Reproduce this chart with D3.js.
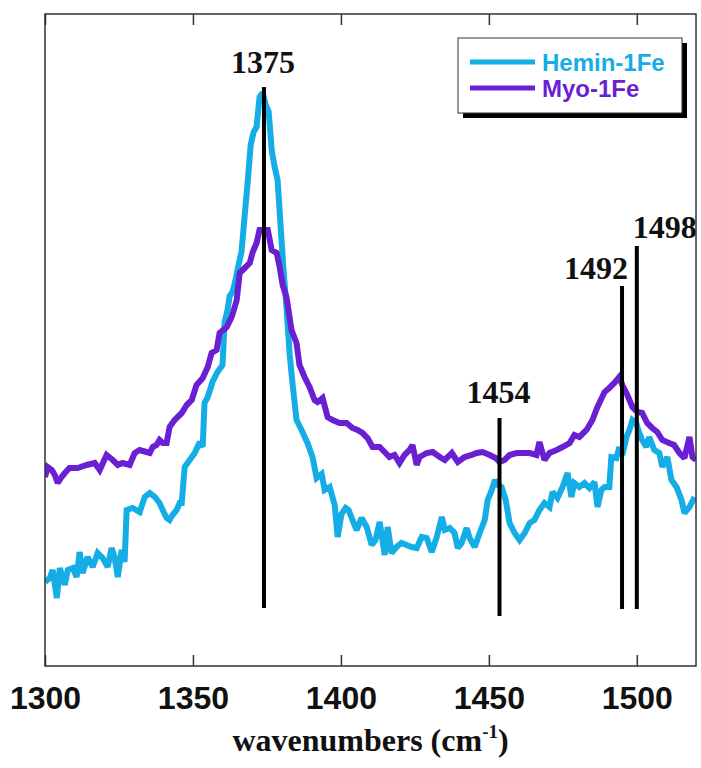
<!DOCTYPE html>
<html>
<head>
<meta charset="utf-8">
<script src="https://cdn.jsdelivr.net/npm/d3@7"></script>
<style>
  body { margin: 0; background: #fff; }
</style>
</head>
<body>
<div id="container"></div>
<script>
// Hemin-1Fe spectrum (wavenumber, intensity a.u.)
let heminWn = [1300,1301.6,1302.6,1304,1305,1306.7,1307.7,1309.4,1310.7,1311.7,1312.7,1314.4,1316.1,1317.8,1319.5,1321.2,1322.5,1323.5,1324.6,1325.9,1326.9,1327.6,1329.6,1332,1333.7,1335.4,1337.1,1338.7,1340.1,1341.1,1342.1,1343.1,1344.5,1345.5,1346.2,1347.2,1348.9,1350.6,1352.3,1353.3,1353.9,1355,1356.6,1358.3,1360,1360.7,1361.7,1362.4,1363.4,1364.4,1365.4,1366.4,1367.5,1368.5,1369.5,1370.5,1371.5,1372.5,1373.6,1374.6,1375.6,1376.6,1377.6,1378.6,1379.6,1380.6,1381.6,1382.7,1383.7,1385,1386.7,1388.7,1390.4,1391.8,1393.5,1394.5,1396.2,1397.9,1398.9,1400.2,1401.6,1402.6,1403.9,1405.3,1407,1408.7,1410.4,1411.7,1413.1,1414.8,1415.8,1417.1,1418.8,1420.5,1422.2,1423.9,1425.6,1427.3,1429,1430.7,1432.4,1434.1,1435.1,1436.8,1438.4,1439.5,1440.8,1442.5,1443.5,1445.2,1446.9,1448.6,1449.6,1451,1452,1453,1454.3,1455.7,1457,1458.7,1460.4,1462.1,1463.8,1465.4,1467.1,1468.8,1470.5,1471.5,1473.2,1474.9,1476.6,1477.9,1478.9,1480.6,1482.3,1484,1485.7,1486.7,1488,1489.1,1490.7,1491.4,1493.1,1494.1,1495.1,1496.5,1497.5,1498.5,1499.8,1500.8,1501.8,1503.2,1504.2,1505.9,1507.6,1508.6,1510.3,1511.7,1513.4,1515.1,1516.1,1517.8,1519.5]
let heminI = [84,88,96,68,98,81,96,98,89,114,93,109,99,113,108,99,118,109,89,116,104,156,158,154,169,173,169,163,154,148,146,151,156,163,163,199,206,213,224,219,263,269,284,294,301,344,356,370,374,386,401,414,451,484,521,534,539,569,573,561,554,516,499,486,441,396,359,311,281,246,236,223,209,188,192,176,179,161,129,152,158,156,146,136,148,139,121,126,144,111,139,113,119,123,121,119,118,129,128,114,129,149,136,138,133,118,123,138,128,119,133,146,166,176,186,181,179,166,143,133,126,133,143,146,156,163,159,174,168,179,193,169,183,179,183,178,184,159,176,179,179,209,208,219,211,229,236,246,243,233,226,219,229,216,213,199,209,186,179,166,153,159,169]

// Myo-1Fe spectrum
let myoWn = [1300,1300.9,1302.3,1303.3,1304.3,1305.6,1306.7,1308.3,1311,1314.1,1316.8,1318.5,1320.8,1322.9,1324.6,1326.2,1328.6,1330.3,1332,1334.3,1335.4,1336.4,1337.7,1338.7,1339.8,1341.1,1342.1,1343.8,1346.2,1347.9,1349.6,1351.2,1353.3,1355,1356.3,1358,1359,1361.4,1363.1,1364.8,1365.8,1367.5,1369.2,1370.2,1371.5,1372.5,1374.2,1375.3,1376.6,1378.3,1379.3,1380.3,1381.6,1383.3,1385,1386,1387.7,1389.4,1391.1,1392.1,1393.8,1395.5,1397.2,1399.5,1401.9,1403.9,1405.6,1407.3,1409,1410.7,1413.1,1414.1,1416.4,1418.1,1419.8,1421.5,1423.2,1424.2,1425.6,1426.6,1429,1431,1433.4,1435.1,1437.5,1439.5,1441.8,1444.2,1445.9,1447.9,1450.3,1452.3,1453.6,1455.3,1457,1459.4,1461.4,1463.8,1466.1,1467.1,1468.8,1470.5,1472.9,1474.9,1477.3,1478.9,1480.6,1483,1485,1486.7,1489.1,1490.7,1492.4,1494.1,1495.1,1496.8,1498.5,1500.2,1501.8,1503.5,1505.2,1506.9,1508.6,1510.9,1512.6,1514.4,1516.1,1517.8,1518.8,1520]
let myoI = [189,199,196,191,183,189,193,198,198,201,203,196,211,206,201,203,201,213,216,214,213,219,221,226,223,223,239,246,253,261,266,281,288,299,313,316,333,339,349,366,393,398,403,414,423,436,436,436,416,413,399,381,369,336,323,301,289,279,266,264,268,249,246,243,243,238,236,233,228,219,219,216,209,211,203,211,216,221,201,209,213,214,209,206,213,204,209,211,213,214,211,208,204,206,211,213,213,213,211,224,206,213,216,219,223,231,229,236,246,259,274,278,283,289,281,271,259,254,253,243,238,234,226,223,221,213,208,229,209,206]

// marked peaks: label, line position, line top / bottom (a.u.)
let peakLabels = ['1375', '1454', '1492', '1498']
let peakPos = [1374, 1453.6, 1495, 1500]
let peakTop = [579, 248, 380, 420]
let peakBottom = [58, 50, 57, 57]
let peakAnchor = ['middle', 'middle', 'end', 'start']

let xTicks = [1300, 1350, 1400, 1450, 1500]
let seriesNames = ['Hemin-1Fe', 'Myo-1Fe']
let seriesColors = ['#15ade6', '#6a1fd2']

let svgWidth = 701
let svgHeight = 768
let plotL = 45, plotR = 696, plotT = 14, plotB = 666

let x = d3.scaleLinear().domain([1300, 1520]).range([plotL, plotR])
let y = d3.scaleLinear().domain([0, 652]).range([plotB, plotT])

let svg = d3.select('#container')
  .append('svg')
  .attr('width', svgWidth)
  .attr('height', svgHeight)
  .style('font-family', 'Liberation Sans, Arial, sans-serif')

svg.append('clipPath').attr('id', 'plot')
  .append('rect')
  .attr('x', plotL).attr('y', plotT)
  .attr('width', plotR - plotL).attr('height', plotB - plotT)

let line = d3.line()
  .x(d => x(d[0]))
  .y(d => y(d[1]))

let series = [
  d3.zip(heminWn, heminI),
  d3.zip(myoWn, myoI)
]

let plot = svg.append('g').attr('clip-path', 'url(#plot)')

plot.selectAll('path.spec')
  .data(series)
  .enter()
  .append('path')
  .attr('class', 'spec')
  .attr('d', line)
  .attr('fill', 'none')
  .attr('stroke', (d, i) => seriesColors[i])
  .attr('stroke-width', 6)
  .attr('stroke-linejoin', 'miter')
  .attr('stroke-miterlimit', 2)

// peak marker lines
plot.selectAll('line.peak')
  .data(peakPos)
  .enter()
  .append('line')
  .attr('class', 'peak')
  .attr('x1', d => x(d)).attr('x2', d => x(d))
  .attr('y1', (d, i) => y(peakTop[i]))
  .attr('y2', (d, i) => y(peakBottom[i]))
  .attr('stroke', '#000')
  .attr('stroke-width', 4)

let labelDx = {middle: -1, end: 6, start: -4}
let labelDy = [-14, -15, -7, -8]
svg.selectAll('text.peak')
  .data(peakLabels)
  .enter()
  .append('text')
  .attr('class', 'peak')
  .attr('x', (d, i) => x(peakPos[i]) + labelDx[peakAnchor[i]])
  .attr('y', (d, i) => y(peakTop[i]) + labelDy[i])
  .attr('text-anchor', (d, i) => peakAnchor[i])
  .style('font-family', 'Liberation Serif, Times New Roman, serif')
  .style('font-weight', 'bold')
  .style('font-size', '32px')
  .attr('fill', '#111')
  .text(d => d)

// axes frame
let xAxisB = d3.axisBottom(x).tickValues(xTicks).tickSize(-11).tickPadding(20).tickFormat(d3.format('d'))
let xAxisT = d3.axisTop(x).tickValues(xTicks).tickSize(-11).tickFormat('')

let gb = svg.append('g').attr('transform', 'translate(0,' + plotB + ')').call(xAxisB)
let gt = svg.append('g').attr('transform', 'translate(0,' + plotT + ')').call(xAxisT)
gb.select('.domain').remove()
gt.select('.domain').remove()
svg.selectAll('.tick line').attr('stroke', '#333').attr('stroke-width', 1.5)
gb.selectAll('.tick text')
  .style('font-family', 'Liberation Sans, Arial, sans-serif')
  .style('font-weight', 'bold')
  .style('font-size', '32px')
  .attr('fill', '#111')

svg.append('rect')
  .attr('x', plotL).attr('y', plotT)
  .attr('width', plotR - plotL).attr('height', plotB - plotT)
  .attr('fill', 'none')
  .attr('stroke', '#333')
  .attr('stroke-width', 1.5)

// x axis title
let title = svg.append('text')
  .attr('x', (plotL + plotR) / 2)
  .attr('y', 751)
  .attr('text-anchor', 'middle')
  .style('font-family', 'Liberation Serif, Times New Roman, serif')
  .style('font-weight', 'bold')
  .style('font-size', '32px')
  .attr('fill', '#111')
title.append('tspan').text('wavenumbers (cm')
title.append('tspan').attr('dy', -13).style('font-size', '19px').text('-1')
title.append('tspan').attr('dy', 13).text(')')

// legend
let lg = svg.append('g').attr('transform', 'translate(458,38)')
lg.append('rect')
  .attr('x', 5).attr('y', 5)
  .attr('width', 224).attr('height', 75)
  .attr('fill', '#000')
lg.append('rect')
  .attr('width', 224).attr('height', 75)
  .attr('fill', '#fff')
  .attr('stroke', '#333')
  .attr('stroke-width', 1)

let items = lg.selectAll('g.item')
  .data(seriesNames)
  .enter()
  .append('g')
  .attr('class', 'item')
  .attr('transform', (d, i) => 'translate(0,' + (24 + i * 26) + ')')
items.append('line')
  .attr('x1', 12).attr('x2', 77)
  .attr('stroke', (d, i) => seriesColors[i])
  .attr('stroke-width', 5)
items.append('text')
  .attr('x', 84).attr('y', 9)
  .style('font-weight', 'bold')
  .style('font-size', '24px')
  .attr('fill', (d, i) => seriesColors[i])
  .text(d => d)
</script>
</body>
</html>
